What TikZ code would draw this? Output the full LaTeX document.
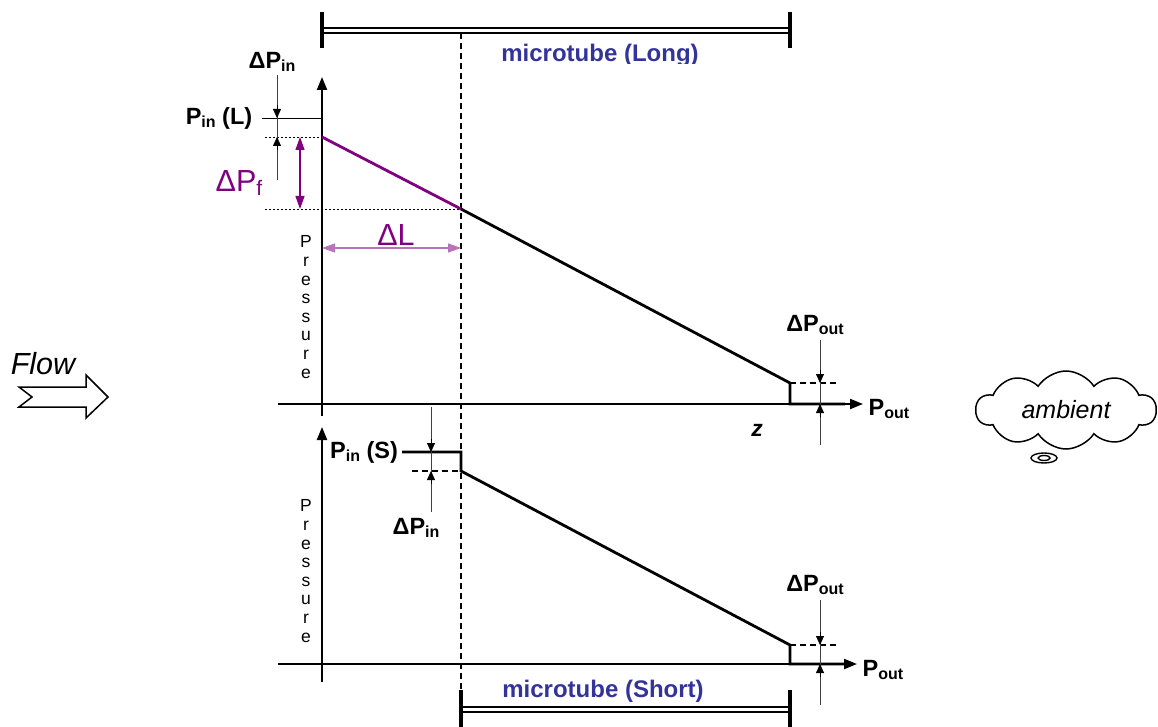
\documentclass[tikz,border=0pt]{standalone}
\usepackage{fontspec}
\setmainfont{Liberation Sans}
\usetikzlibrary{arrows.meta,shapes.symbols}
\definecolor{tubeblue}{RGB}{51,51,153}
\definecolor{purp}{RGB}{128,0,128}
\newcommand{\mysub}[1]{\raisebox{-0.3ex}{\fontsize{16}{16}\selectfont #1}}
\newcommand{\mysubf}[1]{\raisebox{-0.3ex}{\fontsize{21}{21}\selectfont #1}}
\newcommand{\fsz}[1]{\fontsize{#1}{#1}\selectfont}
\begin{document}
\begin{tikzpicture}[x=1pt,y=-1pt,
  lbl/.style={font=\fsz{23.5}\bfseries, inner sep=0pt},
  tubelbl/.style={font=\fsz{24}\bfseries, text=tubeblue, inner sep=0pt},
  axisline/.style={line width=2.2pt, -{Triangle[length=13pt,width=10pt]}},
  curve/.style={line width=2.8pt},
  thinline/.style={line width=0.8pt, draw=black!75},
  tipline/.style={line width=0.8pt, -{Triangle[length=9pt,width=8pt]}},
  dashline/.style={line width=1.8pt, dash pattern=on 6pt off 4pt},
  dotline/.style={line width=0.9pt, dash pattern=on 2pt off 2pt},
  tube/.style={line width=1.7pt, double=white, double distance=3pt},
  tubeend/.style={line width=4.5pt},
  purparrow/.style={purp, line width=1.2pt, {Triangle[length=13pt,width=9pt]}-{Triangle[length=13pt,width=9pt]}},
  pres/.style={font=\fontsize{17.5}{18.6}\selectfont, align=center, inner sep=0pt}
]
\useasboundingbox (0,0) rectangle (1158,727);

% ---------- top tube ----------
\coordinate (TL) at (322,30.5);
\coordinate (TR) at (790,30.5);
\draw[tube] (TL) -- (TR);
\draw[tubeend] (322,12) -- (322,48);
\draw[tubeend] (790,12) -- (790,48);
\begin{scope}
\clip (480,40) rectangle (720,64);
\node[tubelbl] (tubeL) at (600,55) {microtube (Long)};
\end{scope}

% ---------- dashed vertical ----------
\coordinate (DV1) at (461,33);
\coordinate (DV2) at (461,692);
\draw[dashline] (DV1) -- (DV2);

% ---------- top plot ----------
\coordinate (XL1) at (278,404);
\coordinate (XL2) at (863,404);
\coordinate (YL1) at (322,416);
\coordinate (YL2) at (322,77);
\draw[axisline] (XL1) -- (XL2);
\draw[axisline] (YL1) -- (YL2);
\coordinate (A0) at (322,137);
\coordinate (A1) at (461,209);
\coordinate (A2) at (790,383);
\coordinate (A3) at (790,404);
\coordinate (A4) at (845,404);
\draw[curve, purp] (A0) -- (A1);
\draw[curve] (A1) -- (A2) -- (A3) -- (A4);
\draw[dashline] (A2) -- (838,383);

% Pin(L) and dotted lines
\coordinate (PL1) at (262,118);
\coordinate (PL2) at (322,118);
\draw[line width=0.9pt] (PL1) -- (PL2);
\draw[dotline] (265,137) -- (A0);
\draw[dotline] (265,209) -- (A1);

% Delta Pin (top)
\draw[thinline] (277,75) -- (277,180);
\draw[tipline] (277,105) -- (277,118);
\draw[tipline] (277,150) -- (277,137);
\node[lbl] (dpinL) at (272,62) {ΔP\mysub{in}};
\node[lbl] (pinL) at (219,118) {P\mysub{in} (L)};

% Delta Pf
\draw[purparrow] (300,137) -- (300,209);
\node[font=\fsz{30.5}, text=purp, inner sep=0pt] (dpf) at (239,183) {ΔP\mysubf{f}};

% Delta L
\draw[purparrow, draw=purp!55] (322,248) -- (461,248);
\node[font=\fsz{30.5}, text=purp, inner sep=0pt] (dl) at (396,235) {ΔL};

% Pressure (top)
\node[pres] (presT) at (306,307) {P\\r\\e\\s\\s\\u\\r\\e};

% Delta Pout (top)
\draw[thinline] (820,340) -- (820,445);
\draw[tipline] (820,370) -- (820,383);
\draw[tipline] (820,417) -- (820,404);
\node[lbl] (dpoutT) at (815,325) {ΔP\mysub{out}};
\node[lbl] (poutT) at (889,409) {P\mysub{out}};
\node[font=\fsz{23}\bfseries\itshape, inner sep=0pt] (z) at (757,430) {z};

% ---------- bottom plot ----------
\coordinate (XS1) at (278,664);
\coordinate (XS2) at (857,664);
\coordinate (YS1) at (322,682);
\coordinate (YS2) at (322,427);
\draw[axisline] (XS1) -- (XS2);
\draw[axisline] (YS1) -- (YS2);
\coordinate (B0) at (402,452);
\coordinate (B1) at (461,452);
\coordinate (B2) at (461,471);
\coordinate (B3) at (790,645);
\coordinate (B4) at (790,664);
\coordinate (B5) at (845,664);
\draw[curve] (B0) -- (B1) -- (B2) -- (B3) -- (B4) -- (B5);
\draw[dashline] (412,471) -- (B2);
\draw[dashline] (B3) -- (838,645);

% Delta Pin (bottom)
\draw[thinline] (431,407) -- (431,512);
\draw[tipline] (431,439) -- (431,452);
\draw[tipline] (431,484) -- (431,471);
\node[lbl] (pinS) at (364,452) {P\mysub{in} (S)};
\node[lbl] (dpinS) at (416,528) {ΔP\mysub{in}};

% Pressure (bottom)
\node[pres] (presB) at (306,571) {P\\r\\e\\s\\s\\u\\r\\e};

% Delta Pout (bottom)
\draw[thinline] (820,600) -- (820,705);
\draw[tipline] (820,632) -- (820,645);
\draw[tipline] (820,677) -- (820,664);
\node[lbl] (dpoutB) at (815,585) {ΔP\mysub{out}};
\node[lbl] (poutB) at (883,670) {P\mysub{out}};

% ---------- bottom tube ----------
\coordinate (SL) at (461,709.5);
\coordinate (SR) at (790,709.5);
\draw[tube] (SL) -- (SR);
\draw[tubeend] (461,690) -- (461,727);
\draw[tubeend] (790,690) -- (790,727);
\node[tubelbl] (tubeS) at (603,691) {microtube (Short)};

% ---------- flow ----------
\node[font=\fsz{30.5}\itshape, inner sep=0pt] (flow) at (43,364) {Flow};
\draw[line width=1.5pt, line join=miter] (19,387) -- (32,397) -- (19,407) -- (86,407) -- (86,418) -- (108,397) -- (86,375) -- (86,387) -- cycle;

% ---------- ambient cloud ----------
\node[cloud, draw, line width=1.5pt, cloud puffs=10, cloud puff arc=115, aspect=2.3,
      minimum width=180pt, minimum height=78pt, inner sep=0pt,
      font=\fsz{25}\itshape] (amb) at (1066,410) {ambient};
\draw[line width=1.4pt] (1044,458) ellipse [x radius=13, y radius=5];
\draw[line width=1.4pt] (1044,458) ellipse [x radius=6, y radius=2.5];
\end{tikzpicture}
\end{document}
